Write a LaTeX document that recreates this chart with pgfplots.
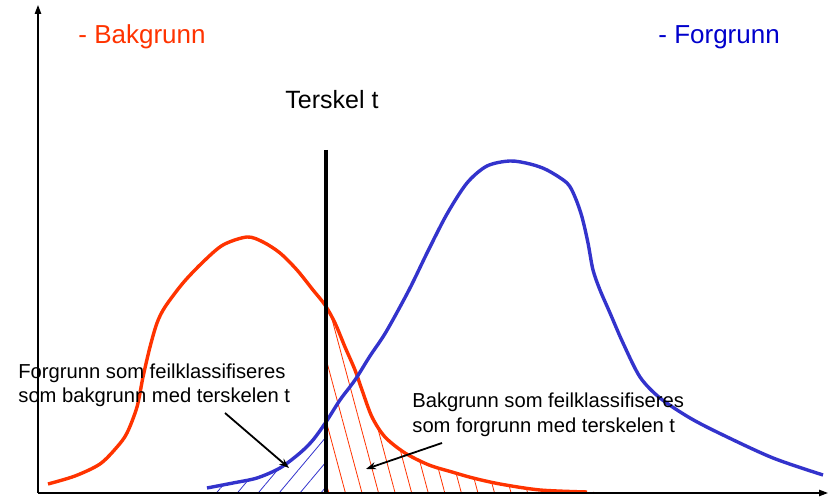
\documentclass[border=0pt]{standalone}
\usepackage{pgfplots}
\pgfplotsset{compat=1.18}
\usepgfplotslibrary{fillbetween}
\usetikzlibrary{patterns.meta,arrows.meta}
\usepackage{fontspec}
\setmainfont{Liberation Sans}
\definecolor{bred}{HTML}{FF3300}
\definecolor{fblue}{HTML}{3333CC}
\definecolor{tblue}{HTML}{0000CC}
\begin{document}
\begin{tikzpicture}
\begin{axis}[
  scale only axis, width=416pt, height=251pt,
  xmin=0, xmax=832, ymin=0, ymax=502, y dir=reverse,
  axis lines=none, clip=false,
]
% bounding box
\addplot[draw=none] coordinates {(0,0) (832,502)};
% baseline path
\addplot[draw=none, name path=base] coordinates {(38,492) (830,492)};
% red curve (Bakgrunn)
\addplot[draw=none, name path=red, smooth, tension=0.5] coordinates {
(48,484) (75,476) (100,464) (117,447) (127,433) (137,407) (143,377) (150,347)
(157,323) (165,307) (183,283) (203,262) (223,245) (247,237) (263,242) (280,253)
(297,270) (313,290) (325,305) (335,323) (345,347) (355,370) (362,390) (372,417)
(385,437) (405,453) (429,465) (452,472) (473,478) (500,484) (540,490) (587,492)};
% blue curve (Forgrunn)
\addplot[draw=none, name path=blue, smooth, tension=0.5] coordinates {
(207,488) (233,483) (257,478) (280,468) (300,453) (313,440) (326,422) (340,400)
(355,380) (370,356) (386,332) (409,290) (428,251) (447,214) (467,183)
(487,166) (510,161) (530,164) (547,170) (567,183) (575,197) (582,217) (588,243)
(593,270) (600,290) (610,313) (623,343) (640,377) (660,398) (690,418) (723,435)
(773,458) (823,475)};
% hatching
\addplot[draw=none, pattern={Lines[angle=50,distance=8pt,line width=0.4pt]}, pattern color=fblue]
  fill between[of=blue and base, soft clip={domain=200:326}];
\addplot[draw=none, pattern={Lines[angle=-75,distance=8pt,line width=0.4pt]}, pattern color=bred]
  fill between[of=red and base, soft clip={domain=326:600}];
% visible curves
\addplot[bred, line width=1.7pt, smooth, tension=0.5] coordinates {
(48,484) (75,476) (100,464) (117,447) (127,433) (137,407) (143,377) (150,347)
(157,323) (165,307) (183,283) (203,262) (223,245) (247,237) (263,242) (280,253)
(297,270) (313,290) (325,305) (335,323) (345,347) (355,370) (362,390) (372,417)
(385,437) (405,453) (429,465) (452,472) (473,478) (500,484) (540,490) (587,492)};
\addplot[fblue, line width=1.7pt, smooth, tension=0.5] coordinates {
(207,488) (233,483) (257,478) (280,468) (300,453) (313,440) (326,422) (340,400)
(355,380) (370,356) (386,332) (409,290) (428,251) (447,214) (467,183)
(487,166) (510,161) (530,164) (547,170) (567,183) (575,197) (582,217) (588,243)
(593,270) (600,290) (610,313) (623,343) (640,377) (660,398) (690,418) (723,435)
(773,458) (823,475)};
% threshold
\addplot[black, line width=1.8pt] coordinates {(326,150) (326,493)};
% axes
\addplot[black, line width=0.7pt, -{Stealth[inset=0pt,length=4.5pt,width=3.2pt]}] coordinates {(38,493) (38,5)};
\addplot[black, line width=0.7pt, -{Stealth[inset=0pt,length=4.5pt,width=3.2pt]}] coordinates {(38,493) (828,493)};
% annotation arrows
\addplot[black, line width=0.9pt, -{Stealth[length=5pt,width=3.6pt]}] coordinates {(225,413) (289,468)};
\addplot[black, line width=0.9pt, -{Stealth[length=5pt,width=3.6pt]}] coordinates {(442,443) (366,469)};
% texts
\node[anchor=base west, inner sep=0pt, text=bred, font=\fontsize{13}{15}\selectfont] at (axis cs:78,44) {- Bakgrunn};
\node[anchor=base west, inner sep=0pt, text=tblue, font=\fontsize{13}{15}\selectfont] at (axis cs:658,44) {- Forgrunn};
\node[anchor=base west, inner sep=0pt, font=\fontsize{12.5}{15}\selectfont] at (axis cs:285,109) {Terskel t};
\node[anchor=base west, inner sep=0pt, font=\fontsize{10.1}{12.3}\selectfont] at (axis cs:18,379) {Forgrunn som feilklassifiseres};
\node[anchor=base west, inner sep=0pt, font=\fontsize{10.1}{12.3}\selectfont] at (axis cs:18,403) {som bakgrunn med terskelen t};
\node[anchor=base west, inner sep=0pt, font=\fontsize{10.1}{12.3}\selectfont] at (axis cs:412,408) {Bakgrunn som feilklassifiseres};
\node[anchor=base west, inner sep=0pt, font=\fontsize{10.1}{12.3}\selectfont] at (axis cs:412,433) {som forgrunn med terskelen t};
\end{axis}
\end{tikzpicture}
\end{document}
